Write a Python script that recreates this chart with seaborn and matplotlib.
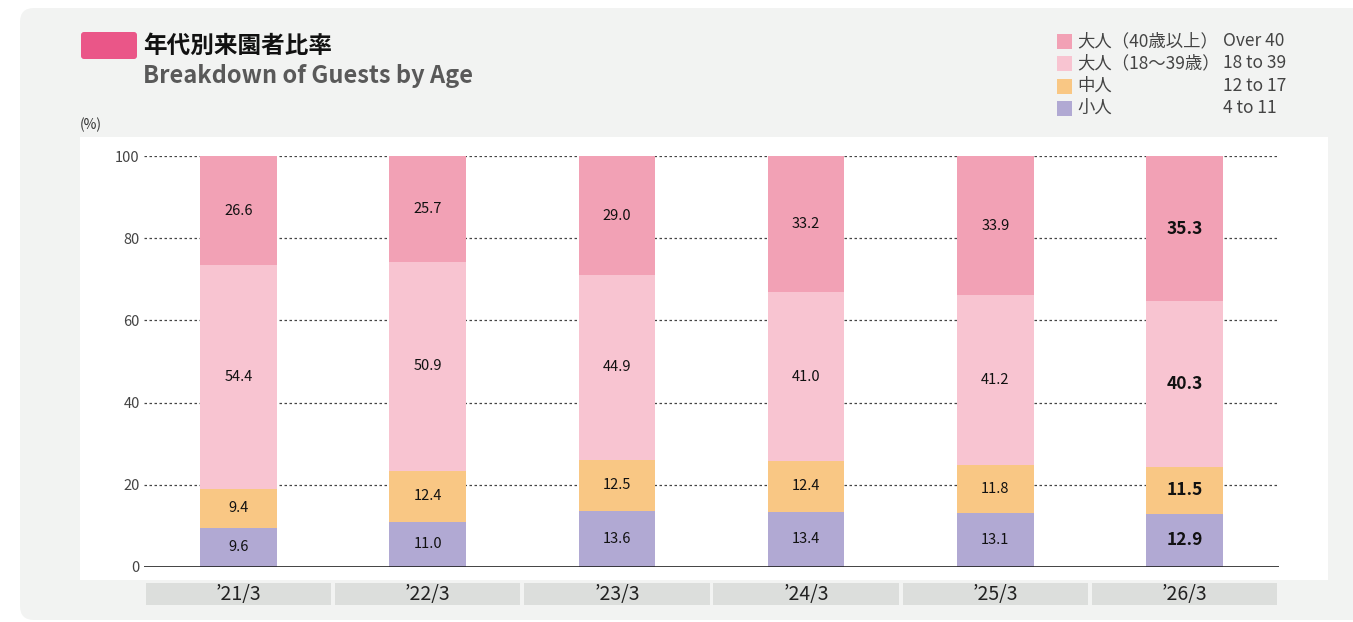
import matplotlib
matplotlib.use("Agg")
import matplotlib.pyplot as plt
from matplotlib.patches import FancyBboxPatch, Rectangle
from matplotlib.transforms import IdentityTransform, blended_transform_factory
import numpy as np
import pandas as pd
import seaborn as sns

# data (bottom -> top)
years = ["’21/3", "’22/3", "’23/3", "’24/3", "’25/3", "’26/3"]
kids = [9.6, 11.0, 13.6, 13.4, 13.1, 12.9]          # 4 to 11
teens = [9.4, 12.4, 12.5, 12.4, 11.8, 11.5]         # 12 to 17
adults_young = [54.4, 50.9, 44.9, 41.0, 41.2, 40.3]  # 18 to 39
adults_old = [26.6, 25.7, 29.0, 33.2, 33.9, 35.3]    # over 40

series_jp = ["小人", "中人", "大人（18〜39歳）", "大人（40歳以上）"]
series_en = ["4 to 11", "12 to 17", "18 to 39", "Over 40"]
colors = ["#b1a9d3", "#f9c784", "#f8c4d1", "#f2a1b5"]

sns.set_style("white")
plt.rcParams['font.family'] = ['Noto Sans CJK JP', 'DejaVu Sans']

W, H = 1353, 622
fig = plt.figure(figsize=(W / 100, H / 100), dpi=100)
fig.patch.set_facecolor("white")

# background panels (pixel coords, origin bottom-left)
fig.patches.append(FancyBboxPatch((20, 2), 1400, 612, boxstyle="round,pad=0,rounding_size=14",
                                  transform=IdentityTransform(), facecolor="#f2f3f2",
                                  edgecolor="none", zorder=-3))
fig.patches.append(Rectangle((80, H - 580), 1248, 443, transform=IdentityTransform(),
                             facecolor="white", edgecolor="none", zorder=-2))
fig.patches.append(FancyBboxPatch((81, H - 59), 56, 27, boxstyle="round,pad=0,rounding_size=3",
                                  transform=IdentityTransform(), facecolor="#ea5688",
                                  edgecolor="none", zorder=1))

ax = fig.add_axes([144 / W, 1 - 567 / H, (1279 - 144) / W, (567 - 156) / H])
ax.set_facecolor("none")
ax.set_zorder(5)

df = pd.DataFrame({"year": years, "kids": kids, "teens": teens,
                   "young": adults_young, "old": adults_old})
cols = ["kids", "teens", "young", "old"]
cum = df[cols].cumsum(axis=1)

# draw cumulative bars from top segment down so they stack
for i in range(3, -1, -1):
    sns.barplot(x=df["year"], y=cum[cols[i]], color=colors[i], saturation=1,
                width=0.405, linewidth=0, ax=ax, zorder=2)

# segment labels
for j in range(len(years)):
    last = j == len(years) - 1
    for i, c in enumerate(cols):
        top = cum[c][j]
        val = df[c][j]
        ax.text(j, top - val / 2, f"{val:.1f}", ha="center", va="center",
                fontsize=12.5 if last else 10.5, fontweight="bold" if last else "normal",
                color="#111", zorder=4)

ax.set_ylim(0, 100)
ax.set_xlim(-0.5, 5.5)
for v in [20, 40, 60, 80, 100]:
    ax.axhline(v, color="#444", lw=0.9, ls=(0, (2, 2)), zorder=1)
ax.axhline(0, color="#222", lw=1.2, zorder=3)
ax.set_yticks([0, 20, 40, 60, 80, 100])
ax.tick_params(axis="y", length=0, pad=3, labelsize=10.5, labelcolor="#444")
ax.set_xticks([])
ax.set_xlabel("")
ax.set_ylabel("")
for s in ax.spines.values():
    s.set_visible(False)

# category label boxes below the axis
tr = blended_transform_factory(ax.transData, ax.transAxes)
for j, y in enumerate(years):
    ax.add_patch(Rectangle((j - 0.49, -0.0925), 0.98, 0.0535, transform=tr,
                           facecolor="#dcdedc", edgecolor="none", clip_on=False))
    ax.text(j, -0.066, y, transform=tr, ha="center", va="center",
            fontsize=14, color="#222")

# titles
fig.text(143 / W, 1 - 46 / H, "年代別来園者比率", fontsize=17, fontweight="bold",
         color="#111", va="center", ha="left")
fig.text(143 / W, 1 - 76 / H, "Breakdown of Guests by Age", fontsize=17,
         fontweight="bold", color="#595959", va="center", ha="left")
fig.text(80 / W, 1 - 125 / H, "(%)", fontsize=10, color="#333", va="center", ha="left")

# legend (top to bottom: over 40 ... 4 to 11)
rows_y = [41, 63, 86, 108]
for k, i in enumerate(range(3, -1, -1)):
    yc = rows_y[k]
    fig.patches.append(Rectangle((1057, H - yc - 7.5), 15, 15, transform=IdentityTransform(),
                                 facecolor=colors[i], edgecolor="none", zorder=2))
    fig.text(1077 / W, 1 - yc / H, series_jp[i], fontsize=12.5, color="#444",
             va="center", ha="left")
    fig.text(1223 / W, 1 - yc / H, series_en[i], fontsize=12.5, color="#444",
             va="center", ha="left")

fig.savefig("out.png", dpi=100)
